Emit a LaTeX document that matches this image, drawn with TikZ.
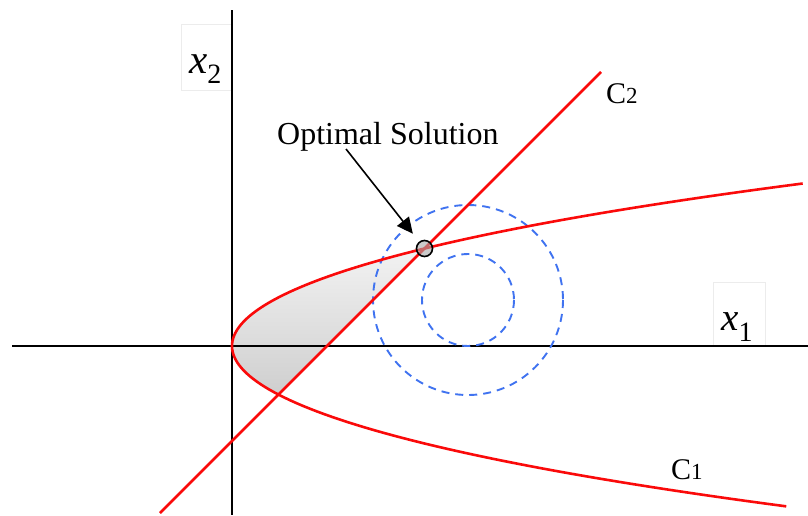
\documentclass[tikz,border=0pt]{standalone}
\usepackage{fontspec}
\setmainfont{Liberation Serif}
\usetikzlibrary{arrows.meta}
\definecolor{cred}{RGB}{250,10,10}
\definecolor{cblue}{RGB}{64,115,240}
\tikzset{
  axis/.style={line width=2.6pt, black},
  curve/.style={line width=2.6pt, cred},
  ring/.style={line width=1.9pt, cblue, dash pattern=on 8pt off 6pt},
  faintbox/.style={draw=gray!15, line width=0.8pt},
  lbl/.style={anchor=base west, inner sep=0pt},
}
\begin{document}
\begin{tikzpicture}[x=1pt,y=-1pt]
\useasboundingbox (0,0) rectangle (808,515);
% faint label boxes
\draw[faintbox] (181,24) rectangle (232,90);
\draw[faintbox] (713,282) rectangle (765,346);
% shaded feasible region
\fill[top color=gray!10, bottom color=gray!38]
  plot[domain=-0.9745:0.4857, samples=80, variable=\s]
  ({232+195*\s*\s+8*\s*\s*\s*\s},{346+100*\s}) -- cycle;
% axes
\coordinate (xl) at (12,346);
\coordinate (xr) at (808,346);
\coordinate (yt) at (232,10);
\coordinate (yb) at (232,515);
\draw[axis] (xl) -- (xr);
\draw[axis] (yt) -- (yb);
% circles
\coordinate (cc) at (468,300);
\draw[ring] (cc) circle[radius=95];
\draw[ring] (cc) circle[radius=46];
% constraint C1 (parabola)
\draw[curve] plot[domain=-1.625:1.605, samples=120, variable=\s]
  ({232+195*\s*\s+8*\s*\s*\s*\s},{346+100*\s});
% constraint C2 (line)
\coordinate (la) at (160,513);
\coordinate (lb) at (601,72);
\draw[curve] (la) -- (lb);
% optimal point
\node[circle, draw=black, line width=1.6pt, fill=gray!70, fill opacity=0.6, draw opacity=1,
      minimum size=16pt, inner sep=0pt] (opt) at (424.5,248.5) {};
% labels
\node[lbl] (optlab) at (277,144) {\fontsize{32}{32}\selectfont Optimal Solution};
\coordinate (arrS) at (346,149);
\draw[line width=1.6pt, -{Triangle[length=16pt,width=15pt]}, shorten >=10pt] (arrS) -- (opt);
\node[lbl] (c2) at (606,103) {\fontsize{30}{30}\selectfont C\fontsize{23}{23}\selectfont 2};
\node[lbl] (c1) at (671,479) {\fontsize{30}{30}\selectfont C\fontsize{23}{23}\selectfont 1};
\node[lbl] (x2) at (189,73) {\fontsize{41}{41}\selectfont\itshape x\raisebox{-10pt}{\fontsize{28}{28}\selectfont\upshape 2}};
\node[lbl] (x1) at (721,330) {\fontsize{39}{39}\selectfont\itshape x\raisebox{-11pt}{\fontsize{28}{28}\selectfont\upshape 1}};
\end{tikzpicture}
\end{document}
